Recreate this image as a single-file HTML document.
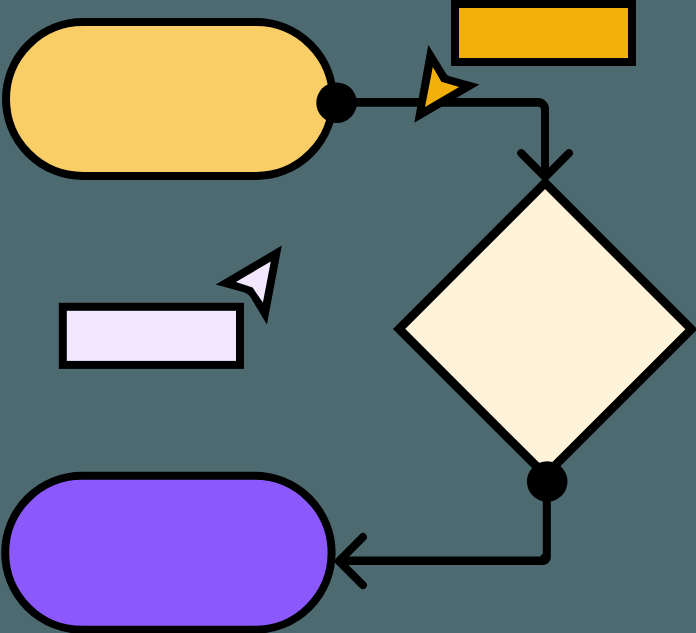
<!DOCTYPE html>
<html><head><meta charset="utf-8"><style>
html,body{margin:0;padding:0;background:#4D6A71;}
body{width:696px;height:633px;overflow:hidden;font-family:"Liberation Sans",sans-serif;}
svg{display:block;}
</style></head><body>
<svg width="696" height="633" viewBox="0 0 696 633" xmlns="http://www.w3.org/2000/svg">
<rect x="0" y="0" width="696" height="633" fill="#4D6A71"/>
<!-- yellow pill -->
<rect x="6" y="22" width="327" height="154" rx="77" ry="77" fill="#FACE67" stroke="#000" stroke-width="8"/>
<!-- purple pill -->
<rect x="5.2" y="475.8" width="326.4" height="154" rx="77" ry="77" fill="#8A58FB" stroke="#000" stroke-width="8"/>
<!-- orange rect -->
<rect x="455" y="4" width="177" height="58" fill="#F3B00B" stroke="#000" stroke-width="8"/>
<!-- lavender rect -->
<rect x="62.8" y="306.8" width="177.2" height="58.1" fill="#F1E8FF" stroke="#000" stroke-width="8"/>
<!-- diamond -->
<polygon points="545.1,182.9 691.4,329.25 545.4,475.2 399.1,328.9" fill="#FFF3DA" stroke="#000" stroke-width="8.7" stroke-linejoin="miter"/>
<!-- top connector -->
<path d="M336 98 H538 A11 11 0 0 1 549 109 V178 H541 V109.8 A3 3 0 0 0 538 106.8 H336 Z" fill="#000"/>
<path d="M521.2 153.2 L545.1 177.1 L569 153.2" fill="none" stroke="#000" stroke-width="8" stroke-linecap="round" stroke-linejoin="round"/>
<!-- bottom connector -->
<path d="M542.8 481 V553.6 L539.8 556.6 H340 V564.9 H542.85 C547.5 564.9 550.85 561 550.85 556.9 V481 Z" fill="#000"/>
<path d="M362.9 537.1 L338.9 561.1 L362.9 585.1" fill="none" stroke="#000" stroke-width="8" stroke-linecap="round" stroke-linejoin="round"/>
<!-- dots -->
<circle cx="336.6" cy="102.7" r="20.3" fill="#000"/>
<circle cx="547.2" cy="481.5" r="20.3" fill="#000"/>
<!-- orange cursor -->
<path d="M428.3 44.7 L446 73.6 Q447.3 75.6 449.6 76.2 L479.4 84.5 L414.3 122.8 Z" fill="#000"/>
<polygon points="432.8,67.1 441.4,81.7 459.2,87 425,107.1" fill="#F3B00B"/>
<!-- lavender cursor -->
<path d="M281.8 245.6 L215.8 284.6 L244.6 292.6 Q248.6 293.9 250.7 297.5 L266.9 324.4 Z" fill="#000"/>
<polygon points="270.8,261.6 235.9,281.9 252.6,287.6 262.9,302.5" fill="#F1E8FF"/>
</svg>
</body></html>
